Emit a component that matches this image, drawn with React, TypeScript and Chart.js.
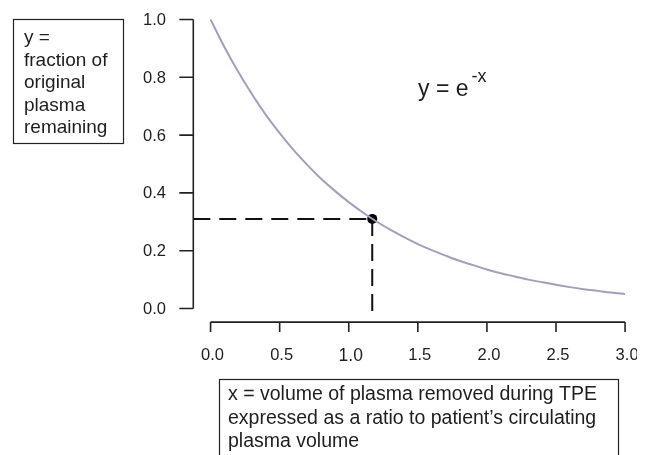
import { useEffect, useRef } from 'react';
import { Chart, registerables } from 'chart.js';

Chart.register(...registerables);

const FONT = '"Liberation Sans", Arial, Helvetica, sans-serif';

// curve y = e^-x
const xValues = [0, 0.1, 0.2, 0.3, 0.4, 0.5, 0.6, 0.7, 0.8, 0.9, 1.0, 1.1, 1.2, 1.3, 1.4, 1.5, 1.6, 1.7, 1.8, 1.9, 2.0, 2.1, 2.2, 2.3, 2.4, 2.5, 2.6, 2.7, 2.8, 2.9, 3.0];
const yValues = [1.0, 0.905, 0.819, 0.741, 0.67, 0.607, 0.549, 0.497, 0.449, 0.407, 0.368, 0.333, 0.301, 0.273, 0.247, 0.223, 0.202, 0.183, 0.165, 0.15, 0.135, 0.122, 0.111, 0.1, 0.091, 0.082, 0.074, 0.067, 0.061, 0.055, 0.05];

// highlighted point and its dashed guides
const markerX = [1.17];
const markerY = [0.31];
const guideHX = [-0.125, 1.17];
const guideHY = [0.31, 0.31];
const guideVX = [1.17, 1.17];
const guideVY = [0.31, -0.02];

// ticks
const xTickValues = [0, 0.5, 1.0, 1.5, 2.0, 2.5, 3.0];
const xTickLabels = ['0.0', '0.5', '1.0', '1.5', '2.0', '2.5', '3.0'];
const yTickValues = [0, 0.2, 0.4, 0.6, 0.8, 1.0];
const yTickLabels = ['0.0', '0.2', '0.4', '0.6', '0.8', '1.0'];

// annotation texts
const yBoxLines = ['y =', 'fraction of', 'original', 'plasma', 'remaining'];
const xBoxLines = [
  'x = volume of plasma removed during TPE',
  'expressed as a ratio to patient\u2019s circulating',
  'plasma volume',
];
const eqMain = 'y = e';
const eqSup = '-x';

const toPoints = (xs: number[], ys: number[]) => xs.map((x, i) => ({ x, y: ys[i] }));

const decorPlugin = {
  id: 'decor',
  afterDraw(chart: any) {
    const ctx = chart.ctx as CanvasRenderingContext2D;
    const xs = chart.scales.x;
    const ys = chart.scales.y;
    const area = chart.chartArea;
    ctx.save();
    ctx.strokeStyle = '#222';
    ctx.fillStyle = '#1e1e1e';
    ctx.lineWidth = 1.6;

    // y axis (R style)
    const axX = area.left;
    ctx.beginPath();
    ctx.moveTo(axX, ys.getPixelForValue(0));
    ctx.lineTo(axX, ys.getPixelForValue(1));
    yTickValues.forEach((v) => {
      const p = ys.getPixelForValue(v);
      ctx.moveTo(axX, p);
      ctx.lineTo(axX - 14, p);
    });
    ctx.stroke();
    ctx.font = `16.5px ${FONT}`;
    ctx.textAlign = 'right';
    ctx.textBaseline = 'middle';
    yTickValues.forEach((v, i) => {
      ctx.fillText(yTickLabels[i], 166, ys.getPixelForValue(v) + 1);
    });

    // x axis
    const axY = area.bottom;
    ctx.beginPath();
    ctx.moveTo(xs.getPixelForValue(0), axY);
    ctx.lineTo(xs.getPixelForValue(3), axY);
    xTickValues.forEach((v) => {
      const p = xs.getPixelForValue(v);
      ctx.moveTo(p, axY);
      ctx.lineTo(p, axY + 10);
    });
    ctx.stroke();
    ctx.textAlign = 'center';
    xTickValues.forEach((v, i) => {
      ctx.font = i === 2 ? `17.5px ${FONT}` : `16.5px ${FONT}`;
      ctx.fillText(xTickLabels[i], xs.getPixelForValue(v) + 2, i === 2 ? 356 : 355);
    });

    // equation
    ctx.textAlign = 'left';
    ctx.textBaseline = 'alphabetic';
    ctx.font = `23px ${FONT}`;
    ctx.fillText(eqMain, 418, 96);
    const w = ctx.measureText(eqMain).width;
    ctx.font = `18px ${FONT}`;
    ctx.fillText(eqSup, 418 + w + 3, 82);

    // y description box
    ctx.lineWidth = 1.2;
    ctx.strokeRect(13.5, 19.5, 110, 124);
    ctx.font = `19px ${FONT}`;
    yBoxLines.forEach((t, i) => ctx.fillText(t, 24, 43 + i * 22.6));

    // x description box
    ctx.strokeRect(219.5, 379.5, 399, 90);
    ctx.font = `19.5px ${FONT}`;
    xBoxLines.forEach((t, i) => ctx.fillText(t, 228, 400 + i * 23.5));

    ctx.restore();
  },
};

export default function App() {
  const ref = useRef<HTMLCanvasElement>(null);
  useEffect(() => {
    const canvas = ref.current!;
    const chart = new Chart(canvas, {
      type: 'scatter',
      data: {
        datasets: [
          {
            data: toPoints(xValues, yValues),
            showLine: true,
            borderColor: '#a0a0ba',
            borderWidth: 2,
            pointRadius: 0,
            tension: 0.4,
            cubicInterpolationMode: 'monotone',
          } as any,
          {
            data: toPoints(guideHX, guideHY),
            showLine: true,
            borderColor: '#111',
            borderWidth: 2,
            borderDash: [17, 9],
            pointRadius: 0,
          },
          {
            data: toPoints(guideVX, guideVY),
            showLine: true,
            borderColor: '#111',
            borderWidth: 2,
            borderDash: [17, 8],
            pointRadius: 0,
          },
          {
            data: toPoints(markerX, markerY),
            pointRadius: 5,
            pointBackgroundColor: '#000',
            pointBorderColor: '#000',
            pointBorderWidth: 0,
          },
        ],
      },
      options: {
        responsive: false,
        animation: false,
        devicePixelRatio: 1,
        clip: false as any,
        layout: { padding: { left: 193.3, right: 0.8, top: 0.65, bottom: 132.9 } },
        scales: {
          x: { type: 'linear', display: false, min: -0.125, max: 3.05 },
          y: { type: 'linear', display: false, min: -0.047, max: 1.05 },
        },
        plugins: { legend: { display: false }, tooltip: { enabled: false } },
      },
      plugins: [decorPlugin],
    });
    return () => chart.destroy();
  }, []);
  return (
    <div style={{ position: 'fixed', left: 0, top: 0, width: 637, height: 455, background: '#fff' }}>
      <canvas ref={ref} width={637} height={455} style={{ display: 'block', width: 637, height: 455 }} />
    </div>
  );
}
